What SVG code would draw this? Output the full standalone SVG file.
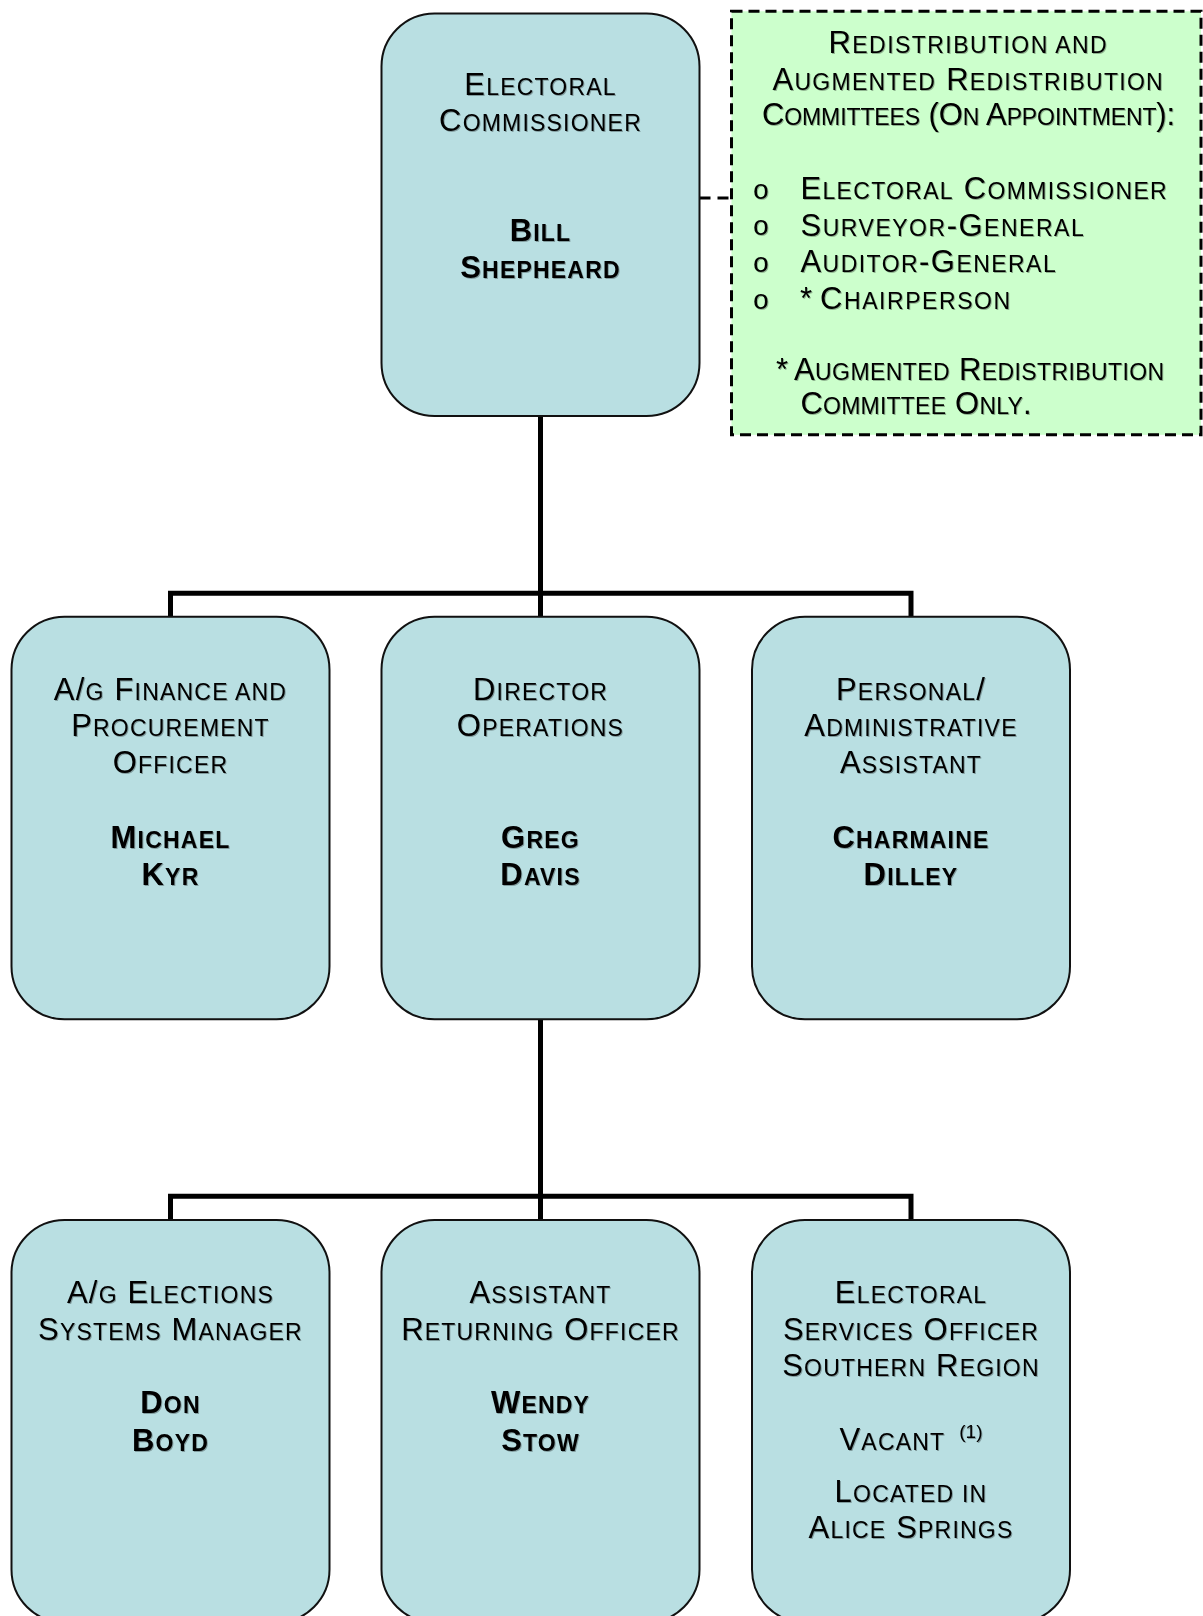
<svg xmlns="http://www.w3.org/2000/svg" width="1203" height="1616" viewBox="0 0 1203 1616">
<defs>
<filter id="sh" x="-5%" y="-5%" width="110%" height="120%">
<feDropShadow dx="1" dy="1" stdDeviation="0.4" flood-color="#000" flood-opacity="0.3"/>
</filter>
<style>
.box{fill:#B9DFE2;stroke:#111;stroke-width:2}
.note{fill:#CCFFCC;stroke:#000;stroke-width:3;stroke-dasharray:11 6}
.conn{fill:none;stroke:#000;stroke-width:5;stroke-linejoin:miter}
.dash{fill:none;stroke:#000;stroke-width:3;stroke-dasharray:11 7}
text{font-family:"Liberation Sans",Arial,sans-serif;font-size:31px;letter-spacing:1.2px;fill:#000}
.s{font-size:23px}
.c{text-anchor:middle}
.b{font-weight:bold}
.n{letter-spacing:0.8px}
.bul{font-family:"Liberation Mono","Courier New",monospace;font-size:28px;letter-spacing:0}
.sup{font-size:19px;letter-spacing:0}
.t{filter:url(#sh)}
</style>
</defs>

<g id="connectors">
<path class="conn" d="M540.5 416 V617 M170.5 617 V593.3 H911 V617"/>
<path class="conn" d="M540.5 1019 V1220 M170.5 1220 V1196.3 H911 V1220"/>
<path class="dash" d="M699.5 198 H731"/>
</g>

<g id="note-committees">
<rect class="note" x="731.5" y="11.3" width="469.5" height="423.5"/>
<g class="t">
<text class="c n" x="968" y="53" textLength="279" lengthAdjust="spacing">R<tspan class="s">EDISTRIBUTION AND</tspan></text>
<text class="c n" x="968" y="89.5" textLength="391" lengthAdjust="spacing">A<tspan class="s">UGMENTED</tspan> R<tspan class="s">EDISTRIBUTION</tspan></text>
<text class="c n" x="969" y="125" textLength="414" lengthAdjust="spacing">C<tspan class="s">OMMITTEES</tspan> (O<tspan class="s">N</tspan> A<tspan class="s">PPOINTMENT</tspan>):</text>
<text class="bul" x="752.5" y="198.5">o</text>
<text class="bul" x="752.5" y="235.2">o</text>
<text class="bul" x="752.5" y="271.9">o</text>
<text class="bul" x="752.5" y="308.5">o</text>
<text class="n" x="800.5" y="199" textLength="367" lengthAdjust="spacing">E<tspan class="s">LECTORAL</tspan> C<tspan class="s">OMMISSIONER</tspan></text>
<text class="n" x="800.5" y="235.7" textLength="284" lengthAdjust="spacing">S<tspan class="s">URVEYOR</tspan>-G<tspan class="s">ENERAL</tspan></text>
<text class="n" x="800.5" y="272.4" textLength="256" lengthAdjust="spacing">A<tspan class="s">UDITOR</tspan>-G<tspan class="s">ENERAL</tspan></text>
<text class="n" y="309"><tspan x="800">*</tspan><tspan x="820" textLength="191" lengthAdjust="spacing">C<tspan class="s">HAIRPERSON</tspan></tspan></text>
<text class="n" y="380"><tspan x="776">*</tspan><tspan x="794" textLength="371" lengthAdjust="spacing">A<tspan class="s">UGMENTED</tspan> R<tspan class="s">EDISTRIBUTION</tspan></tspan></text>
<text class="n" x="800.5" y="414" textLength="232" lengthAdjust="spacing">C<tspan class="s">OMMITTEE</tspan> O<tspan class="s">NLY</tspan>.</text>
</g>
</g>

<g id="node-commissioner">
<rect class="box" x="381.5" y="13.5" width="318" height="402.5" rx="53" ry="53"/>
<g class="t">
<text class="c" x="540.5" y="94.5">E<tspan class="s">LECTORAL</tspan></text>
<text class="c" x="540.5" y="131">C<tspan class="s">OMMISSIONER</tspan></text>
<text class="c b" x="540.5" y="240.5">B<tspan class="s">ILL</tspan></text>
<text class="c b" x="540.5" y="277.5">S<tspan class="s">HEPHEARD</tspan></text>
</g>
</g>

<g id="node-finance">
<rect class="box" x="11.5" y="616.7" width="318" height="402.5" rx="53" ry="53"/>
<g class="t">
<text class="c" x="170.5" y="699.5">A/<tspan class="s">G</tspan> F<tspan class="s">INANCE AND</tspan></text>
<text class="c" x="170.5" y="736">P<tspan class="s">ROCUREMENT</tspan></text>
<text class="c" x="170.5" y="772.7">O<tspan class="s">FFICER</tspan></text>
<text class="c b" x="170.5" y="848.3">M<tspan class="s">ICHAEL</tspan></text>
<text class="c b" x="170.5" y="885">K<tspan class="s">YR</tspan></text>
</g>
</g>

<g id="node-director">
<rect class="box" x="381.5" y="616.7" width="318" height="402.5" rx="53" ry="53"/>
<g class="t">
<text class="c" x="540.5" y="699.5">D<tspan class="s">IRECTOR</tspan></text>
<text class="c" x="540.5" y="736">O<tspan class="s">PERATIONS</tspan></text>
<text class="c b" x="540.5" y="848.3">G<tspan class="s">REG</tspan></text>
<text class="c b" x="540.5" y="885">D<tspan class="s">AVIS</tspan></text>
</g>
</g>

<g id="node-assistant">
<rect class="box" x="752" y="616.7" width="318" height="402.5" rx="53" ry="53"/>
<g class="t">
<text class="c" x="911" y="699.5">P<tspan class="s">ERSONAL</tspan>/</text>
<text class="c" x="911" y="736">A<tspan class="s">DMINISTRATIVE</tspan></text>
<text class="c" x="911" y="772.7">A<tspan class="s">SSISTANT</tspan></text>
<text class="c b" x="911" y="848.3">C<tspan class="s">HARMAINE</tspan></text>
<text class="c b" x="911" y="885">D<tspan class="s">ILLEY</tspan></text>
</g>
</g>

<g id="node-elections">
<rect class="box" x="11.5" y="1220" width="318" height="402.5" rx="53" ry="53"/>
<g class="t">
<text class="c" x="170.5" y="1303">A/<tspan class="s">G</tspan> E<tspan class="s">LECTIONS</tspan></text>
<text class="c" x="170.5" y="1339.7">S<tspan class="s">YSTEMS</tspan> M<tspan class="s">ANAGER</tspan></text>
<text class="c b" x="170.5" y="1413.3">D<tspan class="s">ON</tspan></text>
<text class="c b" x="170.5" y="1450.5">B<tspan class="s">OYD</tspan></text>
</g>
</g>

<g id="node-aro">
<rect class="box" x="381.5" y="1220" width="318" height="402.5" rx="53" ry="53"/>
<g class="t">
<text class="c" x="540.5" y="1303">A<tspan class="s">SSISTANT</tspan></text>
<text class="c" x="540.5" y="1339.7">R<tspan class="s">ETURNING</tspan> O<tspan class="s">FFICER</tspan></text>
<text class="c b" x="540.5" y="1413.3">W<tspan class="s">ENDY</tspan></text>
<text class="c b" x="540.5" y="1450.5">S<tspan class="s">TOW</tspan></text>
</g>
</g>

<g id="node-eso">
<rect class="box" x="752" y="1220" width="318" height="402.5" rx="53" ry="53"/>
<g class="t">
<text class="c" x="911" y="1303">E<tspan class="s">LECTORAL</tspan></text>
<text class="c" x="911" y="1339.7">S<tspan class="s">ERVICES</tspan> O<tspan class="s">FFICER</tspan></text>
<text class="c" x="911" y="1376.3">S<tspan class="s">OUTHERN</tspan> R<tspan class="s">EGION</tspan></text>
<text class="c" x="911" y="1450">V<tspan class="s">ACANT</tspan><tspan class="sup" dx="14" dy="-12">(1)</tspan></text>
<text class="c" x="911" y="1501.7">L<tspan class="s">OCATED IN</tspan></text>
<text class="c" x="911" y="1538.3">A<tspan class="s">LICE</tspan> S<tspan class="s">PRINGS</tspan></text>
</g>
</g>
</svg>
